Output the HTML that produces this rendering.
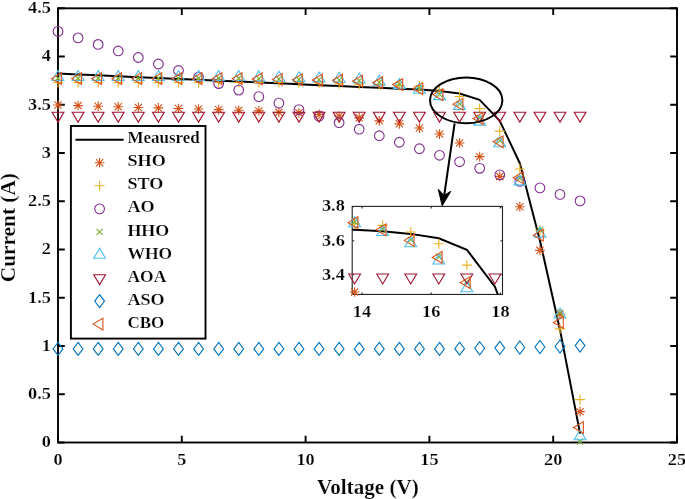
<!DOCTYPE html>
<html><head><meta charset="utf-8"><style>
html,body{margin:0;padding:0;background:#fff;overflow:hidden;width:685px;height:499px}
svg{display:block;will-change:transform}
</style></head><body>
<svg width="685" height="499" viewBox="0 0 685 499">
<rect width="685" height="499" fill="#fff"/>
<rect x="58" y="8.3" width="619" height="434.2" fill="none" stroke="#000" stroke-width="1.9"/>
<path d="M58 442.5V435.7M58 8.3V15.1M181.8 442.5V435.7M181.8 8.3V15.1M305.6 442.5V435.7M305.6 8.3V15.1M429.4 442.5V435.7M429.4 8.3V15.1M553.2 442.5V435.7M553.2 8.3V15.1M677 442.5V435.7M677 8.3V15.1M58 442.5H64.8M677 442.5H670.2M58 394.26H64.8M677 394.26H670.2M58 346.01H64.8M677 346.01H670.2M58 297.77H64.8M677 297.77H670.2M58 249.52H64.8M677 249.52H670.2M58 201.28H64.8M677 201.28H670.2M58 153.03H64.8M677 153.03H670.2M58 104.79H64.8M677 104.79H670.2M58 56.54H64.8M677 56.54H670.2M58 8.3H64.8M677 8.3H670.2" stroke="#000" stroke-width="1.9" fill="none"/>
<polyline points="58,73.58 78.08,74.45 98.16,75.32 118.24,76.28 138.32,77.15 158.4,78.02 178.48,78.89 198.56,79.75 218.64,80.72 238.72,81.59 258.8,82.46 278.88,83.32 298.96,84.19 319.04,85.16 339.12,86.02 359.2,86.89 379.28,87.76 399.36,88.63 419.44,89.4 439.52,90.94 459.6,93.45 479.68,99.91 499.76,120.84 519.84,163.28 539.92,240.43 560,329.93 580.08,433.61" fill="none" stroke="#000" stroke-width="2" stroke-linejoin="round"/>
<path d="M53.15 105.02H62.85M58 100.17V109.87M54.4 101.42L61.6 108.62M54.4 108.62L61.6 101.42" stroke="#D95319" stroke-width="1.1" fill="none"/>
<path d="M73.23 105.6H82.93M78.08 100.75V110.45M74.48 102L81.68 109.2M74.48 109.2L81.68 102" stroke="#D95319" stroke-width="1.1" fill="none"/>
<path d="M93.31 106.18H103.01M98.16 101.33V111.03M94.56 102.58L101.76 109.78M94.56 109.78L101.76 102.58" stroke="#D95319" stroke-width="1.1" fill="none"/>
<path d="M113.39 106.76H123.09M118.24 101.91V111.61M114.64 103.16L121.84 110.36M114.64 110.36L121.84 103.16" stroke="#D95319" stroke-width="1.1" fill="none"/>
<path d="M133.47 107.43H143.17M138.32 102.58V112.28M134.72 103.83L141.92 111.03M134.72 111.03L141.92 103.83" stroke="#D95319" stroke-width="1.1" fill="none"/>
<path d="M153.55 107.92H163.25M158.4 103.07V112.77M154.8 104.32L162 111.52M154.8 111.52L162 104.32" stroke="#D95319" stroke-width="1.1" fill="none"/>
<path d="M173.63 108.5H183.33M178.48 103.65V113.35M174.88 104.9L182.08 112.1M174.88 112.1L182.08 104.9" stroke="#D95319" stroke-width="1.1" fill="none"/>
<path d="M193.71 109.07H203.41M198.56 104.22V113.92M194.96 105.47L202.16 112.67M194.96 112.67L202.16 105.47" stroke="#D95319" stroke-width="1.1" fill="none"/>
<path d="M213.79 109.65H223.49M218.64 104.8V114.5M215.04 106.05L222.24 113.25M215.04 113.25L222.24 106.05" stroke="#D95319" stroke-width="1.1" fill="none"/>
<path d="M233.87 110.23H243.57M238.72 105.38V115.08M235.12 106.63L242.32 113.83M235.12 113.83L242.32 106.63" stroke="#D95319" stroke-width="1.1" fill="none"/>
<path d="M253.95 110.91H263.65M258.8 106.06V115.76M255.2 107.31L262.4 114.51M255.2 114.51L262.4 107.31" stroke="#D95319" stroke-width="1.1" fill="none"/>
<path d="M274.03 112.35H283.73M278.88 107.5V117.2M275.28 108.75L282.48 115.95M275.28 115.95L282.48 108.75" stroke="#D95319" stroke-width="1.1" fill="none"/>
<path d="M294.11 112.84H303.81M298.96 107.99V117.69M295.36 109.24L302.56 116.44M295.36 116.44L302.56 109.24" stroke="#D95319" stroke-width="1.1" fill="none"/>
<path d="M314.19 114.47H323.89M319.04 109.62V119.32M315.44 110.87L322.64 118.07M315.44 118.07L322.64 110.87" stroke="#D95319" stroke-width="1.1" fill="none"/>
<path d="M334.27 116.02H343.97M339.12 111.17V120.87M335.52 112.42L342.72 119.62M335.52 119.62L342.72 112.42" stroke="#D95319" stroke-width="1.1" fill="none"/>
<path d="M354.35 117.85H364.05M359.2 113V122.7M355.6 114.25L362.8 121.45M355.6 121.45L362.8 114.25" stroke="#D95319" stroke-width="1.1" fill="none"/>
<path d="M374.43 120.84H384.13M379.28 115.99V125.69M375.68 117.24L382.88 124.44M375.68 124.44L382.88 117.24" stroke="#D95319" stroke-width="1.1" fill="none"/>
<path d="M394.51 123.83H404.21M399.36 118.98V128.68M395.76 120.23L402.96 127.43M395.76 127.43L402.96 120.23" stroke="#D95319" stroke-width="1.1" fill="none"/>
<path d="M414.59 128.07H424.29M419.44 123.22V132.92M415.84 124.47L423.04 131.67M415.84 131.67L423.04 124.47" stroke="#D95319" stroke-width="1.1" fill="none"/>
<path d="M434.67 134.05H444.37M439.52 129.2V138.9M435.92 130.45L443.12 137.65M435.92 137.65L443.12 130.45" stroke="#D95319" stroke-width="1.1" fill="none"/>
<path d="M454.75 142.93H464.45M459.6 138.08V147.78M456 139.33L463.2 146.53M456 146.53L463.2 139.33" stroke="#D95319" stroke-width="1.1" fill="none"/>
<path d="M474.83 156.62H484.53M479.68 151.77V161.47M476.08 153.02L483.28 160.22M476.08 160.22L483.28 153.02" stroke="#D95319" stroke-width="1.1" fill="none"/>
<path d="M494.91 176.39H504.61M499.76 171.54V181.24M496.16 172.79L503.36 179.99M496.16 179.99L503.36 172.79" stroke="#D95319" stroke-width="1.1" fill="none"/>
<path d="M514.99 206.68H524.69M519.84 201.83V211.53M516.24 203.08L523.44 210.28M516.24 210.28L523.44 203.08" stroke="#D95319" stroke-width="1.1" fill="none"/>
<path d="M535.07 250.36H544.77M539.92 245.51V255.21M536.32 246.76L543.52 253.96M536.32 253.96L543.52 246.76" stroke="#D95319" stroke-width="1.1" fill="none"/>
<path d="M555.15 314.31H564.85M560 309.46V319.16M556.4 310.71L563.6 317.91M556.4 317.91L563.6 310.71" stroke="#D95319" stroke-width="1.1" fill="none"/>
<path d="M575.23 411.62H584.93M580.08 406.77V416.47M576.48 408.02L583.68 415.22M576.48 415.22L583.68 408.02" stroke="#D95319" stroke-width="1.1" fill="none"/>
<path d="M53 82.55H63M58 77.55V87.55" stroke="#EDB120" stroke-width="1.1" fill="none"/>
<path d="M73.08 82.55H83.08M78.08 77.55V87.55" stroke="#EDB120" stroke-width="1.1" fill="none"/>
<path d="M93.16 82.55H103.16M98.16 77.55V87.55" stroke="#EDB120" stroke-width="1.1" fill="none"/>
<path d="M113.24 82.55H123.24M118.24 77.55V87.55" stroke="#EDB120" stroke-width="1.1" fill="none"/>
<path d="M133.32 82.55H143.32M138.32 77.55V87.55" stroke="#EDB120" stroke-width="1.1" fill="none"/>
<path d="M153.4 82.55H163.4M158.4 77.55V87.55" stroke="#EDB120" stroke-width="1.1" fill="none"/>
<path d="M173.48 82.55H183.48M178.48 77.55V87.55" stroke="#EDB120" stroke-width="1.1" fill="none"/>
<path d="M193.56 82.55H203.56M198.56 77.55V87.55" stroke="#EDB120" stroke-width="1.1" fill="none"/>
<path d="M213.64 82.55H223.64M218.64 77.55V87.55" stroke="#EDB120" stroke-width="1.1" fill="none"/>
<path d="M233.72 82.55H243.72M238.72 77.55V87.55" stroke="#EDB120" stroke-width="1.1" fill="none"/>
<path d="M253.8 82.55H263.8M258.8 77.55V87.55" stroke="#EDB120" stroke-width="1.1" fill="none"/>
<path d="M273.88 82.55H283.88M278.88 77.55V87.55" stroke="#EDB120" stroke-width="1.1" fill="none"/>
<path d="M293.96 82.55H303.96M298.96 77.55V87.55" stroke="#EDB120" stroke-width="1.1" fill="none"/>
<path d="M314.04 83.03H324.04M319.04 78.03V88.03" stroke="#EDB120" stroke-width="1.1" fill="none"/>
<path d="M334.12 83.71H344.12M339.12 78.71V88.71" stroke="#EDB120" stroke-width="1.1" fill="none"/>
<path d="M354.2 84.19H364.2M359.2 79.19V89.19" stroke="#EDB120" stroke-width="1.1" fill="none"/>
<path d="M374.28 84.67H384.28M379.28 79.67V89.67" stroke="#EDB120" stroke-width="1.1" fill="none"/>
<path d="M394.36 85.16H404.36M399.36 80.16V90.16" stroke="#EDB120" stroke-width="1.1" fill="none"/>
<path d="M414.44 86.12H424.44M419.44 81.12V91.12" stroke="#EDB120" stroke-width="1.1" fill="none"/>
<path d="M434.52 89.88H444.52M439.52 84.88V94.88" stroke="#EDB120" stroke-width="1.1" fill="none"/>
<path d="M454.6 96.54H464.6M459.6 91.54V101.54" stroke="#EDB120" stroke-width="1.1" fill="none"/>
<path d="M474.68 108.59H484.68M479.68 103.59V113.59" stroke="#EDB120" stroke-width="1.1" fill="none"/>
<path d="M494.76 131.16H504.76M499.76 126.16V136.16" stroke="#EDB120" stroke-width="1.1" fill="none"/>
<path d="M514.84 169.06H524.84M519.84 164.06V174.06" stroke="#EDB120" stroke-width="1.1" fill="none"/>
<path d="M534.92 230.3H544.92M539.92 225.3V235.3" stroke="#EDB120" stroke-width="1.1" fill="none"/>
<path d="M555 328.87H565M560 323.87V333.87" stroke="#EDB120" stroke-width="1.1" fill="none"/>
<path d="M575.08 399.66H585.08M580.08 394.66V404.66" stroke="#EDB120" stroke-width="1.1" fill="none"/>
<circle cx="58" cy="31.4" r="4.85" stroke="#7E2F8E" stroke-width="1.1" fill="none"/>
<circle cx="78.08" cy="37.92" r="4.85" stroke="#7E2F8E" stroke-width="1.1" fill="none"/>
<circle cx="98.16" cy="44.44" r="4.85" stroke="#7E2F8E" stroke-width="1.1" fill="none"/>
<circle cx="118.24" cy="50.96" r="4.85" stroke="#7E2F8E" stroke-width="1.1" fill="none"/>
<circle cx="138.32" cy="57.48" r="4.85" stroke="#7E2F8E" stroke-width="1.1" fill="none"/>
<circle cx="158.4" cy="64" r="4.85" stroke="#7E2F8E" stroke-width="1.1" fill="none"/>
<circle cx="178.48" cy="70.52" r="4.85" stroke="#7E2F8E" stroke-width="1.1" fill="none"/>
<circle cx="198.56" cy="77.04" r="4.85" stroke="#7E2F8E" stroke-width="1.1" fill="none"/>
<circle cx="218.64" cy="83.56" r="4.85" stroke="#7E2F8E" stroke-width="1.1" fill="none"/>
<circle cx="238.72" cy="90.08" r="4.85" stroke="#7E2F8E" stroke-width="1.1" fill="none"/>
<circle cx="258.8" cy="96.6" r="4.85" stroke="#7E2F8E" stroke-width="1.1" fill="none"/>
<circle cx="278.88" cy="103.12" r="4.85" stroke="#7E2F8E" stroke-width="1.1" fill="none"/>
<circle cx="298.96" cy="109.64" r="4.85" stroke="#7E2F8E" stroke-width="1.1" fill="none"/>
<circle cx="319.04" cy="116.16" r="4.85" stroke="#7E2F8E" stroke-width="1.1" fill="none"/>
<circle cx="339.12" cy="122.68" r="4.85" stroke="#7E2F8E" stroke-width="1.1" fill="none"/>
<circle cx="359.2" cy="129.2" r="4.85" stroke="#7E2F8E" stroke-width="1.1" fill="none"/>
<circle cx="379.28" cy="135.72" r="4.85" stroke="#7E2F8E" stroke-width="1.1" fill="none"/>
<circle cx="399.36" cy="142.24" r="4.85" stroke="#7E2F8E" stroke-width="1.1" fill="none"/>
<circle cx="419.44" cy="148.76" r="4.85" stroke="#7E2F8E" stroke-width="1.1" fill="none"/>
<circle cx="439.52" cy="155.28" r="4.85" stroke="#7E2F8E" stroke-width="1.1" fill="none"/>
<circle cx="459.6" cy="161.8" r="4.85" stroke="#7E2F8E" stroke-width="1.1" fill="none"/>
<circle cx="479.68" cy="168.32" r="4.85" stroke="#7E2F8E" stroke-width="1.1" fill="none"/>
<circle cx="499.76" cy="174.84" r="4.85" stroke="#7E2F8E" stroke-width="1.1" fill="none"/>
<circle cx="519.84" cy="181.36" r="4.85" stroke="#7E2F8E" stroke-width="1.1" fill="none"/>
<circle cx="539.92" cy="187.88" r="4.85" stroke="#7E2F8E" stroke-width="1.1" fill="none"/>
<circle cx="560" cy="194.4" r="4.85" stroke="#7E2F8E" stroke-width="1.1" fill="none"/>
<circle cx="580.08" cy="200.92" r="4.85" stroke="#7E2F8E" stroke-width="1.1" fill="none"/>
<path d="M54.95 75.16L61.05 81.26M54.95 81.26L61.05 75.16" stroke="#77AC30" stroke-width="1.1" fill="none"/>
<path d="M75.03 75.16L81.13 81.26M75.03 81.26L81.13 75.16" stroke="#77AC30" stroke-width="1.1" fill="none"/>
<path d="M95.11 75.16L101.21 81.26M95.11 81.26L101.21 75.16" stroke="#77AC30" stroke-width="1.1" fill="none"/>
<path d="M115.19 75.16L121.29 81.26M115.19 81.26L121.29 75.16" stroke="#77AC30" stroke-width="1.1" fill="none"/>
<path d="M135.27 75.16L141.37 81.26M135.27 81.26L141.37 75.16" stroke="#77AC30" stroke-width="1.1" fill="none"/>
<path d="M155.35 75.16L161.45 81.26M155.35 81.26L161.45 75.16" stroke="#77AC30" stroke-width="1.1" fill="none"/>
<path d="M175.43 75.16L181.53 81.26M175.43 81.26L181.53 75.16" stroke="#77AC30" stroke-width="1.1" fill="none"/>
<path d="M195.51 75.16L201.61 81.26M195.51 81.26L201.61 75.16" stroke="#77AC30" stroke-width="1.1" fill="none"/>
<path d="M215.59 75.16L221.69 81.26M215.59 81.26L221.69 75.16" stroke="#77AC30" stroke-width="1.1" fill="none"/>
<path d="M235.67 75.16L241.77 81.26M235.67 81.26L241.77 75.16" stroke="#77AC30" stroke-width="1.1" fill="none"/>
<path d="M255.75 75.55L261.85 81.65M255.75 81.65L261.85 75.55" stroke="#77AC30" stroke-width="1.1" fill="none"/>
<path d="M275.83 75.93L281.93 82.03M275.83 82.03L281.93 75.93" stroke="#77AC30" stroke-width="1.1" fill="none"/>
<path d="M295.91 76.32L302.01 82.42M295.91 82.42L302.01 76.32" stroke="#77AC30" stroke-width="1.1" fill="none"/>
<path d="M315.99 76.61L322.09 82.71M315.99 82.71L322.09 76.61" stroke="#77AC30" stroke-width="1.1" fill="none"/>
<path d="M336.07 76.8L342.17 82.9M336.07 82.9L342.17 76.8" stroke="#77AC30" stroke-width="1.1" fill="none"/>
<path d="M356.15 77.57L362.25 83.67M356.15 83.67L362.25 77.57" stroke="#77AC30" stroke-width="1.1" fill="none"/>
<path d="M376.23 79.31L382.33 85.41M376.23 85.41L382.33 79.31" stroke="#77AC30" stroke-width="1.1" fill="none"/>
<path d="M396.31 81.14L402.41 87.24M396.31 87.24L402.41 81.14" stroke="#77AC30" stroke-width="1.1" fill="none"/>
<path d="M416.39 85.19L422.49 91.29M416.39 91.29L422.49 85.19" stroke="#77AC30" stroke-width="1.1" fill="none"/>
<path d="M436.47 91.17L442.57 97.27M436.47 97.27L442.57 91.17" stroke="#77AC30" stroke-width="1.1" fill="none"/>
<path d="M456.55 100.82L462.65 106.92M456.55 106.92L462.65 100.82" stroke="#77AC30" stroke-width="1.1" fill="none"/>
<path d="M476.63 115.09L482.73 121.19M476.63 121.19L482.73 115.09" stroke="#77AC30" stroke-width="1.1" fill="none"/>
<path d="M496.71 137.56L502.81 143.66M496.71 143.66L502.81 137.56" stroke="#77AC30" stroke-width="1.1" fill="none"/>
<path d="M516.79 175.17L522.89 181.27M516.79 181.27L522.89 175.17" stroke="#77AC30" stroke-width="1.1" fill="none"/>
<path d="M536.87 226.77L542.97 232.87M536.87 232.87L542.97 226.77" stroke="#77AC30" stroke-width="1.1" fill="none"/>
<path d="M556.95 309.71L563.05 315.81M556.95 315.81L563.05 309.71" stroke="#77AC30" stroke-width="1.1" fill="none"/>
<path d="M577.03 438.47L583.13 444.57M577.03 444.57L583.13 438.47" stroke="#77AC30" stroke-width="1.1" fill="none"/>
<path d="M58 70.55L63.9 80.45L52.1 80.45Z" stroke="#4DBEEE" stroke-width="1.1" fill="none" stroke-linejoin="miter"/>
<path d="M78.08 70.55L83.98 80.45L72.18 80.45Z" stroke="#4DBEEE" stroke-width="1.1" fill="none" stroke-linejoin="miter"/>
<path d="M98.16 70.55L104.06 80.45L92.26 80.45Z" stroke="#4DBEEE" stroke-width="1.1" fill="none" stroke-linejoin="miter"/>
<path d="M118.24 70.55L124.14 80.45L112.34 80.45Z" stroke="#4DBEEE" stroke-width="1.1" fill="none" stroke-linejoin="miter"/>
<path d="M138.32 70.55L144.22 80.45L132.42 80.45Z" stroke="#4DBEEE" stroke-width="1.1" fill="none" stroke-linejoin="miter"/>
<path d="M158.4 70.55L164.3 80.45L152.5 80.45Z" stroke="#4DBEEE" stroke-width="1.1" fill="none" stroke-linejoin="miter"/>
<path d="M178.48 70.55L184.38 80.45L172.58 80.45Z" stroke="#4DBEEE" stroke-width="1.1" fill="none" stroke-linejoin="miter"/>
<path d="M198.56 70.55L204.46 80.45L192.66 80.45Z" stroke="#4DBEEE" stroke-width="1.1" fill="none" stroke-linejoin="miter"/>
<path d="M218.64 70.55L224.54 80.45L212.74 80.45Z" stroke="#4DBEEE" stroke-width="1.1" fill="none" stroke-linejoin="miter"/>
<path d="M238.72 70.55L244.62 80.45L232.82 80.45Z" stroke="#4DBEEE" stroke-width="1.1" fill="none" stroke-linejoin="miter"/>
<path d="M258.8 70.94L264.7 80.84L252.9 80.84Z" stroke="#4DBEEE" stroke-width="1.1" fill="none" stroke-linejoin="miter"/>
<path d="M278.88 71.32L284.78 81.22L272.98 81.22Z" stroke="#4DBEEE" stroke-width="1.1" fill="none" stroke-linejoin="miter"/>
<path d="M298.96 71.71L304.86 81.61L293.06 81.61Z" stroke="#4DBEEE" stroke-width="1.1" fill="none" stroke-linejoin="miter"/>
<path d="M319.04 72L324.94 81.9L313.14 81.9Z" stroke="#4DBEEE" stroke-width="1.1" fill="none" stroke-linejoin="miter"/>
<path d="M339.12 72.29L345.02 82.19L333.22 82.19Z" stroke="#4DBEEE" stroke-width="1.1" fill="none" stroke-linejoin="miter"/>
<path d="M359.2 73.06L365.1 82.96L353.3 82.96Z" stroke="#4DBEEE" stroke-width="1.1" fill="none" stroke-linejoin="miter"/>
<path d="M379.28 75.18L385.18 85.08L373.38 85.08Z" stroke="#4DBEEE" stroke-width="1.1" fill="none" stroke-linejoin="miter"/>
<path d="M399.36 78.46L405.26 88.36L393.46 88.36Z" stroke="#4DBEEE" stroke-width="1.1" fill="none" stroke-linejoin="miter"/>
<path d="M419.44 83.38L425.34 93.28L413.54 93.28Z" stroke="#4DBEEE" stroke-width="1.1" fill="none" stroke-linejoin="miter"/>
<path d="M439.52 89.74L445.42 99.64L433.62 99.64Z" stroke="#4DBEEE" stroke-width="1.1" fill="none" stroke-linejoin="miter"/>
<path d="M459.6 99.48L465.5 109.38L453.7 109.38Z" stroke="#4DBEEE" stroke-width="1.1" fill="none" stroke-linejoin="miter"/>
<path d="M479.68 115.2L485.58 125.1L473.78 125.1Z" stroke="#4DBEEE" stroke-width="1.1" fill="none" stroke-linejoin="miter"/>
<path d="M499.76 136.9L505.66 146.8L493.86 146.8Z" stroke="#4DBEEE" stroke-width="1.1" fill="none" stroke-linejoin="miter"/>
<path d="M519.84 175L525.74 184.9L513.94 184.9Z" stroke="#4DBEEE" stroke-width="1.1" fill="none" stroke-linejoin="miter"/>
<path d="M539.92 227.18L545.82 237.08L534.02 237.08Z" stroke="#4DBEEE" stroke-width="1.1" fill="none" stroke-linejoin="miter"/>
<path d="M560 308.09L565.9 317.99L554.1 317.99Z" stroke="#4DBEEE" stroke-width="1.1" fill="none" stroke-linejoin="miter"/>
<path d="M580.08 429.9L585.98 439.8L574.18 439.8Z" stroke="#4DBEEE" stroke-width="1.1" fill="none" stroke-linejoin="miter"/>
<path d="M58 122.14L63.9 112.24L52.1 112.24Z" stroke="#A2142F" stroke-width="1.1" fill="none"/>
<path d="M78.08 122.14L83.98 112.24L72.18 112.24Z" stroke="#A2142F" stroke-width="1.1" fill="none"/>
<path d="M98.16 122.14L104.06 112.24L92.26 112.24Z" stroke="#A2142F" stroke-width="1.1" fill="none"/>
<path d="M118.24 122.14L124.14 112.24L112.34 112.24Z" stroke="#A2142F" stroke-width="1.1" fill="none"/>
<path d="M138.32 122.14L144.22 112.24L132.42 112.24Z" stroke="#A2142F" stroke-width="1.1" fill="none"/>
<path d="M158.4 122.14L164.3 112.24L152.5 112.24Z" stroke="#A2142F" stroke-width="1.1" fill="none"/>
<path d="M178.48 122.14L184.38 112.24L172.58 112.24Z" stroke="#A2142F" stroke-width="1.1" fill="none"/>
<path d="M198.56 122.14L204.46 112.24L192.66 112.24Z" stroke="#A2142F" stroke-width="1.1" fill="none"/>
<path d="M218.64 122.14L224.54 112.24L212.74 112.24Z" stroke="#A2142F" stroke-width="1.1" fill="none"/>
<path d="M238.72 122.14L244.62 112.24L232.82 112.24Z" stroke="#A2142F" stroke-width="1.1" fill="none"/>
<path d="M258.8 122.14L264.7 112.24L252.9 112.24Z" stroke="#A2142F" stroke-width="1.1" fill="none"/>
<path d="M278.88 122.14L284.78 112.24L272.98 112.24Z" stroke="#A2142F" stroke-width="1.1" fill="none"/>
<path d="M298.96 122.14L304.86 112.24L293.06 112.24Z" stroke="#A2142F" stroke-width="1.1" fill="none"/>
<path d="M319.04 122.14L324.94 112.24L313.14 112.24Z" stroke="#A2142F" stroke-width="1.1" fill="none"/>
<path d="M339.12 122.14L345.02 112.24L333.22 112.24Z" stroke="#A2142F" stroke-width="1.1" fill="none"/>
<path d="M359.2 122.14L365.1 112.24L353.3 112.24Z" stroke="#A2142F" stroke-width="1.1" fill="none"/>
<path d="M379.28 122.14L385.18 112.24L373.38 112.24Z" stroke="#A2142F" stroke-width="1.1" fill="none"/>
<path d="M399.36 122.14L405.26 112.24L393.46 112.24Z" stroke="#A2142F" stroke-width="1.1" fill="none"/>
<path d="M419.44 122.14L425.34 112.24L413.54 112.24Z" stroke="#A2142F" stroke-width="1.1" fill="none"/>
<path d="M439.52 122.14L445.42 112.24L433.62 112.24Z" stroke="#A2142F" stroke-width="1.1" fill="none"/>
<path d="M459.6 122.14L465.5 112.24L453.7 112.24Z" stroke="#A2142F" stroke-width="1.1" fill="none"/>
<path d="M479.68 122.14L485.58 112.24L473.78 112.24Z" stroke="#A2142F" stroke-width="1.1" fill="none"/>
<path d="M499.76 122.14L505.66 112.24L493.86 112.24Z" stroke="#A2142F" stroke-width="1.1" fill="none"/>
<path d="M519.84 122.14L525.74 112.24L513.94 112.24Z" stroke="#A2142F" stroke-width="1.1" fill="none"/>
<path d="M539.92 122.14L545.82 112.24L534.02 112.24Z" stroke="#A2142F" stroke-width="1.1" fill="none"/>
<path d="M560 122.14L565.9 112.24L554.1 112.24Z" stroke="#A2142F" stroke-width="1.1" fill="none"/>
<path d="M580.08 122.14L585.98 112.24L574.18 112.24Z" stroke="#A2142F" stroke-width="1.1" fill="none"/>
<path d="M58 342.43L62.9 348.93L58 355.43L53.1 348.93Z" stroke="#0072BD" stroke-width="1.1" fill="none"/>
<path d="M78.08 342.43L82.98 348.93L78.08 355.43L73.18 348.93Z" stroke="#0072BD" stroke-width="1.1" fill="none"/>
<path d="M98.16 342.43L103.06 348.93L98.16 355.43L93.26 348.93Z" stroke="#0072BD" stroke-width="1.1" fill="none"/>
<path d="M118.24 342.43L123.14 348.93L118.24 355.43L113.34 348.93Z" stroke="#0072BD" stroke-width="1.1" fill="none"/>
<path d="M138.32 342.43L143.22 348.93L138.32 355.43L133.42 348.93Z" stroke="#0072BD" stroke-width="1.1" fill="none"/>
<path d="M158.4 342.43L163.3 348.93L158.4 355.43L153.5 348.93Z" stroke="#0072BD" stroke-width="1.1" fill="none"/>
<path d="M178.48 342.43L183.38 348.93L178.48 355.43L173.58 348.93Z" stroke="#0072BD" stroke-width="1.1" fill="none"/>
<path d="M198.56 342.43L203.46 348.93L198.56 355.43L193.66 348.93Z" stroke="#0072BD" stroke-width="1.1" fill="none"/>
<path d="M218.64 342.43L223.54 348.93L218.64 355.43L213.74 348.93Z" stroke="#0072BD" stroke-width="1.1" fill="none"/>
<path d="M238.72 342.43L243.62 348.93L238.72 355.43L233.82 348.93Z" stroke="#0072BD" stroke-width="1.1" fill="none"/>
<path d="M258.8 342.43L263.7 348.93L258.8 355.43L253.9 348.93Z" stroke="#0072BD" stroke-width="1.1" fill="none"/>
<path d="M278.88 342.43L283.78 348.93L278.88 355.43L273.98 348.93Z" stroke="#0072BD" stroke-width="1.1" fill="none"/>
<path d="M298.96 342.43L303.86 348.93L298.96 355.43L294.06 348.93Z" stroke="#0072BD" stroke-width="1.1" fill="none"/>
<path d="M319.04 342.43L323.94 348.93L319.04 355.43L314.14 348.93Z" stroke="#0072BD" stroke-width="1.1" fill="none"/>
<path d="M339.12 342.43L344.02 348.93L339.12 355.43L334.22 348.93Z" stroke="#0072BD" stroke-width="1.1" fill="none"/>
<path d="M359.2 342.43L364.1 348.93L359.2 355.43L354.3 348.93Z" stroke="#0072BD" stroke-width="1.1" fill="none"/>
<path d="M379.28 342.43L384.18 348.93L379.28 355.43L374.38 348.93Z" stroke="#0072BD" stroke-width="1.1" fill="none"/>
<path d="M399.36 342.43L404.26 348.93L399.36 355.43L394.46 348.93Z" stroke="#0072BD" stroke-width="1.1" fill="none"/>
<path d="M419.44 342.43L424.34 348.93L419.44 355.43L414.54 348.93Z" stroke="#0072BD" stroke-width="1.1" fill="none"/>
<path d="M439.52 342.43L444.42 348.93L439.52 355.43L434.62 348.93Z" stroke="#0072BD" stroke-width="1.1" fill="none"/>
<path d="M459.6 342.14L464.5 348.64L459.6 355.14L454.7 348.64Z" stroke="#0072BD" stroke-width="1.1" fill="none"/>
<path d="M479.68 341.76L484.58 348.26L479.68 354.76L474.78 348.26Z" stroke="#0072BD" stroke-width="1.1" fill="none"/>
<path d="M499.76 341.37L504.66 347.87L499.76 354.37L494.86 347.87Z" stroke="#0072BD" stroke-width="1.1" fill="none"/>
<path d="M519.84 340.98L524.74 347.48L519.84 353.98L514.94 347.48Z" stroke="#0072BD" stroke-width="1.1" fill="none"/>
<path d="M539.92 340.5L544.82 347L539.92 353.5L535.02 347Z" stroke="#0072BD" stroke-width="1.1" fill="none"/>
<path d="M560 340.02L564.9 346.52L560 353.02L555.1 346.52Z" stroke="#0072BD" stroke-width="1.1" fill="none"/>
<path d="M580.08 339.06L584.98 345.56L580.08 352.06L575.18 345.56Z" stroke="#0072BD" stroke-width="1.1" fill="none"/>
<path d="M51.4 78.6L61.3 72.7L61.3 84.5Z" stroke="#D95319" stroke-width="1.1" fill="none"/>
<path d="M71.48 78.6L81.38 72.7L81.38 84.5Z" stroke="#D95319" stroke-width="1.1" fill="none"/>
<path d="M91.56 78.6L101.46 72.7L101.46 84.5Z" stroke="#D95319" stroke-width="1.1" fill="none"/>
<path d="M111.64 78.6L121.54 72.7L121.54 84.5Z" stroke="#D95319" stroke-width="1.1" fill="none"/>
<path d="M131.72 78.6L141.62 72.7L141.62 84.5Z" stroke="#D95319" stroke-width="1.1" fill="none"/>
<path d="M151.8 78.6L161.7 72.7L161.7 84.5Z" stroke="#D95319" stroke-width="1.1" fill="none"/>
<path d="M171.88 78.6L181.78 72.7L181.78 84.5Z" stroke="#D95319" stroke-width="1.1" fill="none"/>
<path d="M191.96 78.6L201.86 72.7L201.86 84.5Z" stroke="#D95319" stroke-width="1.1" fill="none"/>
<path d="M212.04 78.6L221.94 72.7L221.94 84.5Z" stroke="#D95319" stroke-width="1.1" fill="none"/>
<path d="M232.12 78.6L242.02 72.7L242.02 84.5Z" stroke="#D95319" stroke-width="1.1" fill="none"/>
<path d="M252.2 78.98L262.1 73.08L262.1 84.88Z" stroke="#D95319" stroke-width="1.1" fill="none"/>
<path d="M272.28 79.37L282.18 73.47L282.18 85.27Z" stroke="#D95319" stroke-width="1.1" fill="none"/>
<path d="M292.36 79.75L302.26 73.85L302.26 85.65Z" stroke="#D95319" stroke-width="1.1" fill="none"/>
<path d="M312.44 80.04L322.34 74.14L322.34 85.94Z" stroke="#D95319" stroke-width="1.1" fill="none"/>
<path d="M332.52 80.24L342.42 74.34L342.42 86.14Z" stroke="#D95319" stroke-width="1.1" fill="none"/>
<path d="M352.6 81.01L362.5 75.11L362.5 86.91Z" stroke="#D95319" stroke-width="1.1" fill="none"/>
<path d="M372.68 82.74L382.58 76.84L382.58 88.64Z" stroke="#D95319" stroke-width="1.1" fill="none"/>
<path d="M392.76 84.58L402.66 78.68L402.66 90.48Z" stroke="#D95319" stroke-width="1.1" fill="none"/>
<path d="M412.84 88.63L422.74 82.73L422.74 94.53Z" stroke="#D95319" stroke-width="1.1" fill="none"/>
<path d="M432.92 94.61L442.82 88.71L442.82 100.51Z" stroke="#D95319" stroke-width="1.1" fill="none"/>
<path d="M453 104.25L462.9 98.35L462.9 110.15Z" stroke="#D95319" stroke-width="1.1" fill="none"/>
<path d="M473.08 118.53L482.98 112.63L482.98 124.43Z" stroke="#D95319" stroke-width="1.1" fill="none"/>
<path d="M493.16 141.77L503.06 135.87L503.06 147.67Z" stroke="#D95319" stroke-width="1.1" fill="none"/>
<path d="M513.24 177.74L523.14 171.84L523.14 183.64Z" stroke="#D95319" stroke-width="1.1" fill="none"/>
<path d="M533.32 235.13L543.22 229.23L543.22 241.03Z" stroke="#D95319" stroke-width="1.1" fill="none"/>
<path d="M553.4 322.41L563.3 316.51L563.3 328.31Z" stroke="#D95319" stroke-width="1.1" fill="none"/>
<path d="M573.48 427.53L583.38 421.63L583.38 433.43Z" stroke="#D95319" stroke-width="1.1" fill="none"/>
<text transform="translate(51 447.3) scale(1.035 1)" text-anchor="end" style="font-family:'Liberation Serif',serif;font-weight:bold;stroke:#fff;stroke-width:0.2px;font-size:17.7px">0</text>
<text transform="translate(51 399.06) scale(1.035 1)" text-anchor="end" style="font-family:'Liberation Serif',serif;font-weight:bold;stroke:#fff;stroke-width:0.2px;font-size:17.7px">0.5</text>
<text transform="translate(51 350.81) scale(1.035 1)" text-anchor="end" style="font-family:'Liberation Serif',serif;font-weight:bold;stroke:#fff;stroke-width:0.2px;font-size:17.7px">1</text>
<text transform="translate(51 302.57) scale(1.035 1)" text-anchor="end" style="font-family:'Liberation Serif',serif;font-weight:bold;stroke:#fff;stroke-width:0.2px;font-size:17.7px">1.5</text>
<text transform="translate(51 254.32) scale(1.035 1)" text-anchor="end" style="font-family:'Liberation Serif',serif;font-weight:bold;stroke:#fff;stroke-width:0.2px;font-size:17.7px">2</text>
<text transform="translate(51 206.08) scale(1.035 1)" text-anchor="end" style="font-family:'Liberation Serif',serif;font-weight:bold;stroke:#fff;stroke-width:0.2px;font-size:17.7px">2.5</text>
<text transform="translate(51 157.83) scale(1.035 1)" text-anchor="end" style="font-family:'Liberation Serif',serif;font-weight:bold;stroke:#fff;stroke-width:0.2px;font-size:17.7px">3</text>
<text transform="translate(51 109.59) scale(1.035 1)" text-anchor="end" style="font-family:'Liberation Serif',serif;font-weight:bold;stroke:#fff;stroke-width:0.2px;font-size:17.7px">3.5</text>
<text transform="translate(51 61.34) scale(1.035 1)" text-anchor="end" style="font-family:'Liberation Serif',serif;font-weight:bold;stroke:#fff;stroke-width:0.2px;font-size:17.7px">4</text>
<text transform="translate(51 13.1) scale(1.035 1)" text-anchor="end" style="font-family:'Liberation Serif',serif;font-weight:bold;stroke:#fff;stroke-width:0.2px;font-size:17.7px">4.5</text>
<text transform="translate(58 465.1) scale(1.035 1)" text-anchor="middle" style="font-family:'Liberation Serif',serif;font-weight:bold;stroke:#fff;stroke-width:0.2px;font-size:17.7px">0</text>
<text transform="translate(181.8 465.1) scale(1.035 1)" text-anchor="middle" style="font-family:'Liberation Serif',serif;font-weight:bold;stroke:#fff;stroke-width:0.2px;font-size:17.7px">5</text>
<text transform="translate(305.6 465.1) scale(1.035 1)" text-anchor="middle" style="font-family:'Liberation Serif',serif;font-weight:bold;stroke:#fff;stroke-width:0.2px;font-size:17.7px">10</text>
<text transform="translate(429.4 465.1) scale(1.035 1)" text-anchor="middle" style="font-family:'Liberation Serif',serif;font-weight:bold;stroke:#fff;stroke-width:0.2px;font-size:17.7px">15</text>
<text transform="translate(553.2 465.1) scale(1.035 1)" text-anchor="middle" style="font-family:'Liberation Serif',serif;font-weight:bold;stroke:#fff;stroke-width:0.2px;font-size:17.7px">20</text>
<text transform="translate(677 465.1) scale(1.035 1)" text-anchor="middle" style="font-family:'Liberation Serif',serif;font-weight:bold;stroke:#fff;stroke-width:0.2px;font-size:17.7px">25</text>
<text transform="translate(367.8 494.2) scale(1.03 1)" text-anchor="middle" style="font-family:'Liberation Serif',serif;font-weight:bold;stroke:#fff;stroke-width:0.2px;font-size:20.5px">Voltage (V)</text>
<text transform="translate(14.6 227.6) rotate(-90) scale(1.04 1)" text-anchor="middle" style="font-family:'Liberation Serif',serif;font-weight:bold;stroke:#fff;stroke-width:0.2px;font-size:20.5px">Current (A)</text>
<rect x="70.9" y="126" width="134.6" height="212.6" fill="#fff" stroke="#000" stroke-width="1.9"/>
<path d="M75.5 139.7H123.6" stroke="#000" stroke-width="2"/>
<path d="M94.75 162.75H104.45M99.6 157.9V167.6M96 159.15L103.2 166.35M96 166.35L103.2 159.15" stroke="#D95319" stroke-width="1.1" fill="none"/>
<path d="M94.6 185.8H104.6M99.6 180.8V190.8" stroke="#EDB120" stroke-width="1.1" fill="none"/>
<circle cx="99.6" cy="208.85" r="4.85" stroke="#7E2F8E" stroke-width="1.1" fill="none"/>
<path d="M96.55 228.85L102.65 234.95M96.55 234.95L102.65 228.85" stroke="#77AC30" stroke-width="1.1" fill="none"/>
<path d="M99.6 248.35L105.5 258.25L93.7 258.25Z" stroke="#4DBEEE" stroke-width="1.1" fill="none" stroke-linejoin="miter"/>
<path d="M99.6 284.6L105.5 274.7L93.7 274.7Z" stroke="#A2142F" stroke-width="1.1" fill="none"/>
<path d="M99.6 294.55L104.5 301.05L99.6 307.55L94.7 301.05Z" stroke="#0072BD" stroke-width="1.1" fill="none"/>
<path d="M93 324.1L102.9 318.2L102.9 330Z" stroke="#D95319" stroke-width="1.1" fill="none"/>
<text transform="translate(127.4 143.3)" text-anchor="start" style="font-family:'Liberation Serif',serif;font-weight:bold;stroke:#fff;stroke-width:0.2px;font-size:17.0px">Meausred</text>
<text transform="translate(127.4 166.35) scale(1.07 1)" text-anchor="start" style="font-family:'Liberation Serif',serif;font-weight:bold;stroke:#fff;stroke-width:0.2px;font-size:17.0px">SHO</text>
<text transform="translate(127.4 189.4) scale(1.065 1)" text-anchor="start" style="font-family:'Liberation Serif',serif;font-weight:bold;stroke:#fff;stroke-width:0.2px;font-size:17.0px">STO</text>
<text transform="translate(127.4 212.45) scale(1.07 1)" text-anchor="start" style="font-family:'Liberation Serif',serif;font-weight:bold;stroke:#fff;stroke-width:0.2px;font-size:17.0px">AO</text>
<text transform="translate(127.4 235.5) scale(1.055 1)" text-anchor="start" style="font-family:'Liberation Serif',serif;font-weight:bold;stroke:#fff;stroke-width:0.2px;font-size:17.0px">HHO</text>
<text transform="translate(127.4 258.55) scale(1.03 1)" text-anchor="start" style="font-family:'Liberation Serif',serif;font-weight:bold;stroke:#fff;stroke-width:0.2px;font-size:17.0px">WHO</text>
<text transform="translate(127.4 281.6) scale(1.03 1)" text-anchor="start" style="font-family:'Liberation Serif',serif;font-weight:bold;stroke:#fff;stroke-width:0.2px;font-size:17.0px">AOA</text>
<text transform="translate(127.4 304.65) scale(1.065 1)" text-anchor="start" style="font-family:'Liberation Serif',serif;font-weight:bold;stroke:#fff;stroke-width:0.2px;font-size:17.0px">ASO</text>
<text transform="translate(127.4 327.7)" text-anchor="start" style="font-family:'Liberation Serif',serif;font-weight:bold;stroke:#fff;stroke-width:0.2px;font-size:17.0px">CBO</text>
<rect x="352.2" y="206.4" width="150.3" height="88.05" fill="#fff"/>
<defs><clipPath id="ic"><rect x="352.2" y="206.4" width="150.3" height="88.05"/></clipPath></defs>
<rect x="352.2" y="206.4" width="150.3" height="88.05" fill="none" stroke="#222" stroke-width="1.1"/>
<path d="M362 294.45V292.45M362 206.4V208.4M431.2 294.45V292.45M431.2 206.4V208.4M500.4 294.45V292.45M500.4 206.4V208.4M352.2 274.8H354.2M502.5 274.8H500.5M352.2 240.7H354.2M502.5 240.7H500.5M352.2 206.6H354.2M502.5 206.6H500.5" stroke="#222" stroke-width="1.1" fill="none"/>
<polyline points="-122.4,203.19 -94.34,204.72 -66.28,206.26 -38.22,207.96 -10.16,209.5 17.9,211.03 45.96,212.57 74.02,214.1 102.08,215.81 130.14,217.34 158.2,218.88 186.26,220.41 214.32,221.94 242.38,223.65 270.44,225.18 298.5,226.72 326.56,228.25 354.62,229.79 382.68,231.15 410.74,233.88 438.8,238.31 466.86,249.74 494.92,286.73 522.98,361.75 551.04,498.15 579.1,656.38 607.16,839.67" fill="none" stroke="#000" stroke-width="2" clip-path="url(#ic)"/>
<path d="M349.77 292.02H359.47M354.62 287.17V296.87M351.02 288.42L358.22 295.62M351.02 295.62L358.22 288.42" stroke="#D95319" stroke-width="1.1" fill="none"/>
<path d="M349.62 223.65H359.62M354.62 218.65V228.65" stroke="#EDB120" stroke-width="1.1" fill="none"/>
<path d="M377.68 225.35H387.68M382.68 220.35V230.35" stroke="#EDB120" stroke-width="1.1" fill="none"/>
<path d="M405.74 232H415.74M410.74 227V237" stroke="#EDB120" stroke-width="1.1" fill="none"/>
<path d="M433.8 243.77H443.8M438.8 238.77V248.77" stroke="#EDB120" stroke-width="1.1" fill="none"/>
<path d="M461.86 265.08H471.86M466.86 260.08V270.08" stroke="#EDB120" stroke-width="1.1" fill="none"/>
<path d="M351.57 218.89L357.67 224.99M351.57 224.99L357.67 218.89" stroke="#77AC30" stroke-width="1.1" fill="none"/>
<path d="M379.63 226.06L385.73 232.16M379.63 232.16L385.73 226.06" stroke="#77AC30" stroke-width="1.1" fill="none"/>
<path d="M407.69 236.63L413.79 242.73M407.69 242.73L413.79 236.63" stroke="#77AC30" stroke-width="1.1" fill="none"/>
<path d="M435.75 253.68L441.85 259.78M435.75 259.78L441.85 253.68" stroke="#77AC30" stroke-width="1.1" fill="none"/>
<path d="M463.81 278.91L469.91 285.01M463.81 285.01L469.91 278.91" stroke="#77AC30" stroke-width="1.1" fill="none"/>
<path d="M354.62 216.88L360.52 226.78L348.72 226.78Z" stroke="#4DBEEE" stroke-width="1.1" fill="none" stroke-linejoin="miter"/>
<path d="M382.68 225.57L388.58 235.47L376.78 235.47Z" stroke="#4DBEEE" stroke-width="1.1" fill="none" stroke-linejoin="miter"/>
<path d="M410.74 236.83L416.64 246.73L404.84 246.73Z" stroke="#4DBEEE" stroke-width="1.1" fill="none" stroke-linejoin="miter"/>
<path d="M438.8 254.05L444.7 263.95L432.9 263.95Z" stroke="#4DBEEE" stroke-width="1.1" fill="none" stroke-linejoin="miter"/>
<path d="M466.86 281.84L472.76 291.74L460.96 291.74Z" stroke="#4DBEEE" stroke-width="1.1" fill="none" stroke-linejoin="miter"/>
<path d="M354.62 283.96L360.52 274.06L348.72 274.06Z" stroke="#A2142F" stroke-width="1.1" fill="none"/>
<path d="M382.68 283.96L388.58 274.06L376.78 274.06Z" stroke="#A2142F" stroke-width="1.1" fill="none"/>
<path d="M410.74 283.96L416.64 274.06L404.84 274.06Z" stroke="#A2142F" stroke-width="1.1" fill="none"/>
<path d="M438.8 283.96L444.7 274.06L432.9 274.06Z" stroke="#A2142F" stroke-width="1.1" fill="none"/>
<path d="M466.86 283.96L472.76 274.06L460.96 274.06Z" stroke="#A2142F" stroke-width="1.1" fill="none"/>
<path d="M494.92 283.96L500.82 274.06L489.02 274.06Z" stroke="#A2142F" stroke-width="1.1" fill="none"/>
<path d="M348.02 222.63L357.92 216.73L357.92 228.53Z" stroke="#D95319" stroke-width="1.1" fill="none"/>
<path d="M376.08 229.79L385.98 223.89L385.98 235.69Z" stroke="#D95319" stroke-width="1.1" fill="none"/>
<path d="M404.14 240.36L414.04 234.46L414.04 246.26Z" stroke="#D95319" stroke-width="1.1" fill="none"/>
<path d="M432.2 257.41L442.1 251.51L442.1 263.31Z" stroke="#D95319" stroke-width="1.1" fill="none"/>
<path d="M460.26 282.64L470.16 276.74L470.16 288.54Z" stroke="#D95319" stroke-width="1.1" fill="none"/>
<text transform="translate(344.8 211.4) scale(1.035 1)" text-anchor="end" style="font-family:'Liberation Serif',serif;font-weight:bold;stroke:#fff;stroke-width:0.2px;font-size:17.7px">3.8</text>
<text transform="translate(344.8 245.5) scale(1.035 1)" text-anchor="end" style="font-family:'Liberation Serif',serif;font-weight:bold;stroke:#fff;stroke-width:0.2px;font-size:17.7px">3.6</text>
<text transform="translate(344.8 279.6) scale(1.035 1)" text-anchor="end" style="font-family:'Liberation Serif',serif;font-weight:bold;stroke:#fff;stroke-width:0.2px;font-size:17.7px">3.4</text>
<text transform="translate(362 316.6) scale(1.035 1)" text-anchor="middle" style="font-family:'Liberation Serif',serif;font-weight:bold;stroke:#fff;stroke-width:0.2px;font-size:17.7px">14</text>
<text transform="translate(431.2 316.6) scale(1.035 1)" text-anchor="middle" style="font-family:'Liberation Serif',serif;font-weight:bold;stroke:#fff;stroke-width:0.2px;font-size:17.7px">16</text>
<text transform="translate(500.4 316.6) scale(1.035 1)" text-anchor="middle" style="font-family:'Liberation Serif',serif;font-weight:bold;stroke:#fff;stroke-width:0.2px;font-size:17.7px">18</text>
<ellipse cx="466.2" cy="100.3" rx="36.2" ry="22.9" fill="none" stroke="#000" stroke-width="2"/>
<path d="M454.6 123.4L444.2 195.5" stroke="#000" stroke-width="2" fill="none"/>
<path d="M442.2 205.8L438.3 189.4L444.0 195.4L450.8 191.3Z" fill="#000" stroke="#000" stroke-width="1" stroke-linejoin="round"/>
</svg>
</body></html>
